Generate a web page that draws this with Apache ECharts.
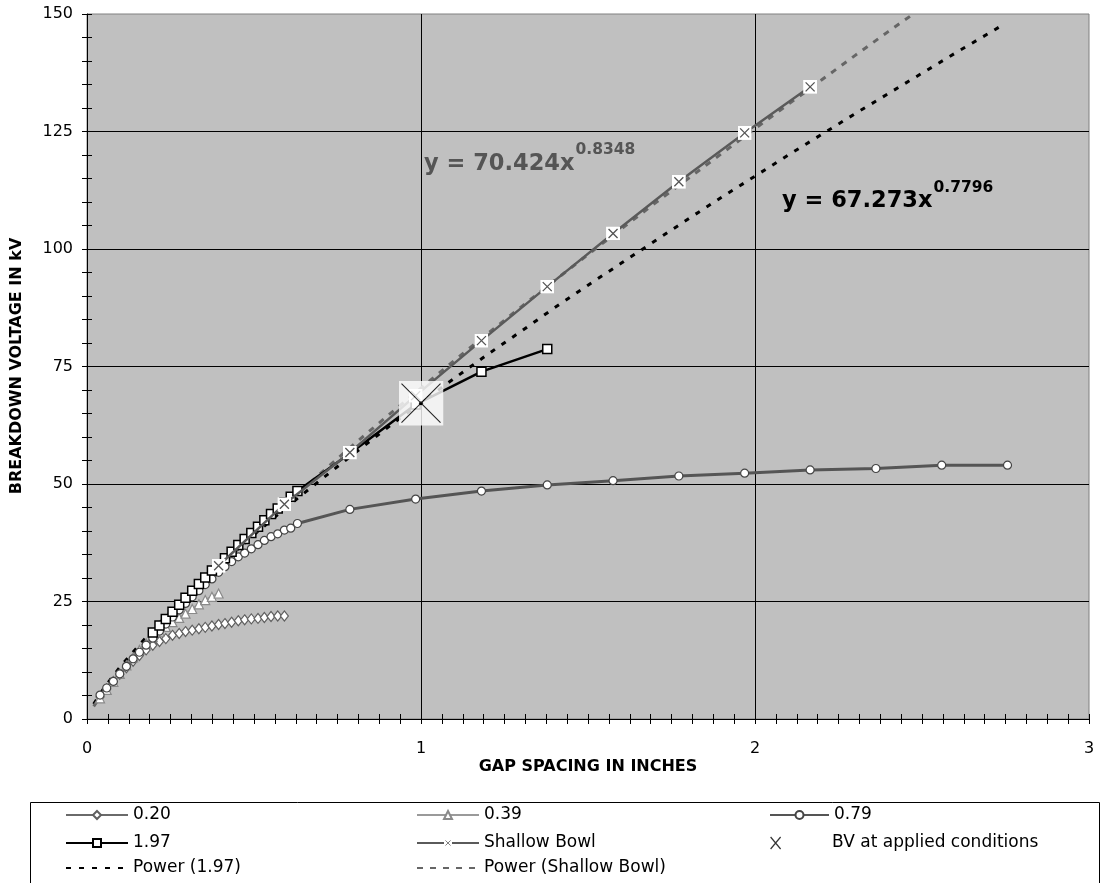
<!DOCTYPE html>
<html><head><meta charset="utf-8">
<script src="https://cdn.jsdelivr.net/npm/echarts@6/dist/echarts.min.js"></script>
<style>html,body{margin:0;padding:0;background:#fff}#c{width:1106px;height:883px}</style>
</head><body><div id="c"></div>
<script>
// ---- data ----
const gap020 = [0.039,0.059,0.079,0.098,0.118,0.138,0.157,0.177,0.197,0.217,0.236,0.256,0.276,0.295,0.315,0.335,0.354,0.374,0.394,0.413,0.433,0.453,0.472,0.492,0.512,0.531,0.551,0.571,0.591];
const kv020 = [4.7,6.4,8.0,9.5,10.9,12.3,13.5,14.7,15.7,16.5,17.1,17.8,18.2,18.6,18.9,19.2,19.5,19.8,20.1,20.3,20.6,20.9,21.1,21.3,21.4,21.6,21.8,21.9,21.9];

const gap039 = [0.039,0.059,0.079,0.098,0.118,0.138,0.157,0.177,0.197,0.217,0.236,0.256,0.276,0.295,0.315,0.335,0.354,0.374,0.394];
const kv039 = [4.4,6.2,7.9,9.6,11.4,13.1,14.7,16.1,17.4,18.6,19.6,20.6,21.5,22.4,23.4,24.4,25.3,26.0,26.7];

const gap079 = [0.039,0.059,0.079,0.098,0.118,0.138,0.157,0.177,0.197,0.217,0.236,0.256,0.276,0.295,0.315,0.335,0.354,0.374,0.394,0.413,0.433,0.453,0.472,0.492,0.512,0.531,0.551,0.571,0.591,0.610,0.630,0.787,0.984,1.181,1.378,1.575,1.772,1.969,2.165,2.362,2.559,2.756];
const kv079 = [5.1,6.6,8.0,9.6,11.2,12.8,14.2,15.7,17.2,18.7,20.2,21.7,23.2,24.6,26.0,27.3,28.6,29.8,31.2,32.4,33.5,34.5,35.3,36.2,37.1,38.0,38.8,39.4,40.2,40.6,41.6,44.6,46.8,48.5,49.8,50.7,51.7,52.3,53.0,53.3,54.0,54.0];

const gap197 = [0.197,0.217,0.236,0.256,0.276,0.295,0.315,0.335,0.354,0.374,0.394,0.413,0.433,0.453,0.472,0.492,0.512,0.531,0.551,0.571,0.591,0.610,0.630,0.787,0.984,1.181,1.378];
const kv197 = [18.4,19.9,21.3,22.8,24.3,25.8,27.3,28.7,30.1,31.6,32.9,34.2,35.6,37.0,38.3,39.6,40.9,42.3,43.6,44.8,46.1,47.3,48.5,56.5,66.9,73.9,78.7];

const gapBowl = [0.394,0.591,0.787,0.984,1.181,1.378,1.575,1.772,1.969,2.165];
const kvBowl = [32.6,45.7,56.7,68.8,80.5,92.0,103.3,114.3,124.7,134.5];

const gapBV = [1.0];
const kvBV = [67.2];

const gapPow197 = [0.02,0.05,0.1,0.2,0.3,0.4,0.5,0.6,0.7,0.8,0.9,1.0,1.1,1.2,1.3,1.4,1.5,1.6,1.7,1.8,1.9,2.0,2.1,2.2,2.3,2.4,2.5,2.6,2.7,2.74];
const kvPow197 = [3.2,6.5,11.2,19.2,26.3,32.9,39.2,45.2,50.9,56.5,62.0,67.3,72.5,77.6,82.5,87.5,92.3,97.0,101.7,106.4,111.0,115.5,120.0,124.4,128.8,133.1,137.4,141.7,145.9,147.6];

const gapPowBowl = [0.02,0.05,0.1,0.2,0.3,0.4,0.5,0.6,0.7,0.8,0.9,1.0,1.1,1.2,1.3,1.4,1.5,1.6,1.7,1.8,1.9,2.0,2.1,2.2,2.3,2.4,2.47];
const kvPowBowl = [2.7,5.8,10.3,18.4,25.8,32.8,39.5,46.0,52.3,58.5,64.5,70.4,76.3,82.0,87.7,93.3,98.8,104.3,109.7,115.0,120.3,125.6,130.8,136.0,141.2,146.3,149.8];

const xTicks = [0,1,2,3];
const yTicks = [0,25,50,75,100,125,150];

const eq197 = ['y = 67.273x', '0.7796'];
const eqBowl = ['y = 70.424x', '0.8348'];

// ---- helpers ----
function pairs(xs, ys){ return xs.map((x,i)=>[x, ys[i]]); }
const FONT = 'DejaVu Sans';
function svgURI(s){ return 'image://data:image/svg+xml;charset=utf-8,' + encodeURIComponent(s); }
const bowlSym = svgURI('<svg xmlns="http://www.w3.org/2000/svg" width="28" height="28" viewBox="0 0 28 28"><rect width="28" height="28" fill="#fff"/><path d="M5,5L23,23M23,5L5,23" stroke="#555" stroke-width="2.6" fill="none"/></svg>');
const bvSym = svgURI('<svg xmlns="http://www.w3.org/2000/svg" width="90" height="90" viewBox="0 0 90 90"><rect width="90" height="90" fill="#fff"/><path d="M6,6L84,84M84,6L6,84" stroke="#000" stroke-width="2.2" fill="none"/><circle cx="45" cy="45" r="4" fill="#000"/></svg>');

function measure(text, font){
  const c = document.createElement('canvas').getContext('2d');
  c.font = font; return c.measureText(text).width;
}

const chart = echarts.init(document.getElementById('c'), null, {renderer:'canvas'});

const eqFont = 22.5, supFont = 15.5;
const w1 = measure(eqBowl[0], 'bold ' + eqFont + 'px "' + FONT + '"');
const w2 = measure(eq197[0], 'bold ' + eqFont + 'px "' + FONT + '"');

const legendBase = {
  orient:'horizontal', padding:0, itemWidth:62, itemHeight:10, itemGap:0,
  selectedMode:false,
  textStyle:{fontFamily:FONT, fontSize:17, color:'#000', lineHeight:18}
};
function leg(name, left, cy, extra){
  return Object.assign({}, legendBase, {data:[name], left:left, top:cy-9}, extra||{});
}

const option = {
  animation:false,
  backgroundColor:'#fff',
  grid:{left:87, right:17, top:14, bottom:164, show:true, backgroundColor:'#C0C0C0', borderColor:'#808080', borderWidth:1},
  xAxis:[
    {type:'value', min:xTicks[0], max:xTicks[xTicks.length-1], interval:1, position:'bottom',
     axisLine:{show:true, onZero:false, lineStyle:{color:'#000', width:1}},
     axisTick:{show:true, length:5, lineStyle:{color:'#000'}},
     minorTick:{show:true, splitNumber:16, length:5, lineStyle:{color:'#000'}},
     axisLabel:{fontFamily:FONT, fontSize:16, color:'#000', margin:22},
     splitLine:{show:true, showMinLine:false, showMaxLine:false, lineStyle:{color:'#000', width:1}}},
    {type:'value', min:xTicks[0], max:xTicks[xTicks.length-1], interval:1, position:'bottom',
     axisLine:{show:false, onZero:false},
     axisTick:{show:true, inside:true, length:5, lineStyle:{color:'#000'}},
     minorTick:{show:true, splitNumber:16, length:5, lineStyle:{color:'#000'}},
     axisLabel:{show:false}, splitLine:{show:false}}
  ],
  yAxis:[
    {type:'value', min:yTicks[0], max:yTicks[yTicks.length-1], interval:25, position:'left',
     axisLine:{show:true, onZero:false, lineStyle:{color:'#000', width:1}},
     axisTick:{show:true, length:5, lineStyle:{color:'#000'}},
     minorTick:{show:true, splitNumber:5, length:5, lineStyle:{color:'#000'}},
     axisLabel:{fontFamily:FONT, fontSize:16, color:'#000', margin:14},
     splitLine:{show:true, showMinLine:false, showMaxLine:false, lineStyle:{color:'#000', width:1}}},
    {type:'value', min:yTicks[0], max:yTicks[yTicks.length-1], interval:25, position:'left',
     axisLine:{show:false, onZero:false},
     axisTick:{show:true, inside:true, length:5, lineStyle:{color:'#000'}},
     minorTick:{show:true, splitNumber:5, length:5, lineStyle:{color:'#000'}},
     axisLabel:{show:false}, splitLine:{show:false}}
  ],
  legend:[
    leg('0.20', 65, 815),
    leg('1.97', 65, 843),
    leg('Power (1.97)', 65, 868),
    leg('0.39', 416, 815),
    leg('Shallow Bowl', 416, 843),
    leg('Power (Shallow Bowl)', 416, 868),
    leg('0.79', 769, 815, {itemWidth:59}),
    Object.assign({}, legendBase, {data:[{name:'BV at applied conditions', icon:'path://M0,0L10,12M10,0L0,12'}], left:770, top:843-9, itemWidth:11, itemHeight:12,
      itemStyle:{color:'rgba(0,0,0,0)', borderColor:'#000', borderWidth:1.2},
      textStyle:{fontFamily:FONT, fontSize:17, color:'#000', lineHeight:18, padding:[0,0,0,46]}})
  ],
  graphic:[
    {type:'rect', shape:{x:30.5, y:802.5, width:1069, height:120}, style:{fill:'#fff', stroke:'#000', lineWidth:1}, z:-1, silent:true},
    {type:'text', x:17, y:366, rotation:Math.PI/2, style:{text:'BREAKDOWN VOLTAGE IN kV', font:'bold 16px "'+FONT+'"', fill:'#000', align:'center', verticalAlign:'middle'}},
    {type:'text', x:588, y:767, style:{text:'GAP SPACING IN INCHES', font:'bold 16px "'+FONT+'"', fill:'#000', align:'center', verticalAlign:'middle'}},
    {type:'text', x:424, y:164, z:10, style:{text:eqBowl[0], font:'bold '+eqFont+'px "'+FONT+'"', fill:'#555', align:'left', verticalAlign:'middle'}},
    {type:'text', x:424 + w1 + 1, y:150, z:10, style:{text:eqBowl[1], font:'bold '+supFont+'px "'+FONT+'"', fill:'#555', align:'left', verticalAlign:'middle'}},
    {type:'text', x:782, y:201, z:10, style:{text:eq197[0], font:'bold '+eqFont+'px "'+FONT+'"', fill:'#000', align:'left', verticalAlign:'middle'}},
    {type:'text', x:782 + w2 + 1, y:188, z:10, style:{text:eq197[1], font:'bold '+supFont+'px "'+FONT+'"', fill:'#000', align:'left', verticalAlign:'middle'}}
  ],
  series:[
    {name:'Power (1.97)', type:'line', data:pairs(gapPow197, kvPow197), showSymbol:false, symbol:'circle', symbolSize:0,
     smooth:false, z:2, silent:true,
     lineStyle:{color:'#000', width:3, type:[5,8]}, itemStyle:{color:'rgba(0,0,0,0)', borderWidth:0}},
    {name:'Power (Shallow Bowl)', type:'line', data:pairs(gapPowBowl, kvPowBowl), showSymbol:false, symbol:'circle', symbolSize:0,
     smooth:false, z:2, silent:true,
     lineStyle:{color:'#666', width:3, type:[6,7]}, itemStyle:{color:'rgba(0,0,0,0)', borderWidth:0}},
    {name:'0.20', type:'line', data:pairs(gap020, kv020), symbol:'diamond', symbolSize:[8,10], z:3,
     lineStyle:{color:'#6a6a6a', width:2.5}, itemStyle:{color:'#fff', borderColor:'#5f5f5f', borderWidth:1.2}},
    {name:'0.39', type:'line', data:pairs(gap039, kv039), symbol:'triangle', symbolSize:9, z:3,
     lineStyle:{color:'#9a9a9a', width:2.5}, itemStyle:{color:'#fff', borderColor:'#8a8a8a', borderWidth:1.2}},
    {name:'0.79', type:'line', data:pairs(gap079, kv079), symbol:'circle', symbolSize:8, z:3,
     lineStyle:{color:'#555', width:3}, itemStyle:{color:'#fff', borderColor:'#444', borderWidth:1.2}},
    {name:'1.97', type:'line', data:pairs(gap197, kv197), symbol:'rect', symbolSize:9, z:4,
     lineStyle:{color:'#000', width:2.5}, itemStyle:{color:'#fff', borderColor:'#000', borderWidth:1.5}},
    {name:'Shallow Bowl', type:'line', data:pairs(gapBowl, kvBowl), symbol:bowlSym, symbolSize:14, z:5,
     lineStyle:{color:'#5a5a5a', width:2.5}, itemStyle:{color:'#5a5a5a'}},
    {name:'BV at applied conditions', type:'scatter', data:pairs(gapBV, kvBV), symbol:bvSym, symbolSize:45, z:6,
     itemStyle:{color:'#000', borderColor:'#000', borderWidth:1.2}}
  ]
};
chart.setOption(option);
</script>
</body></html>
